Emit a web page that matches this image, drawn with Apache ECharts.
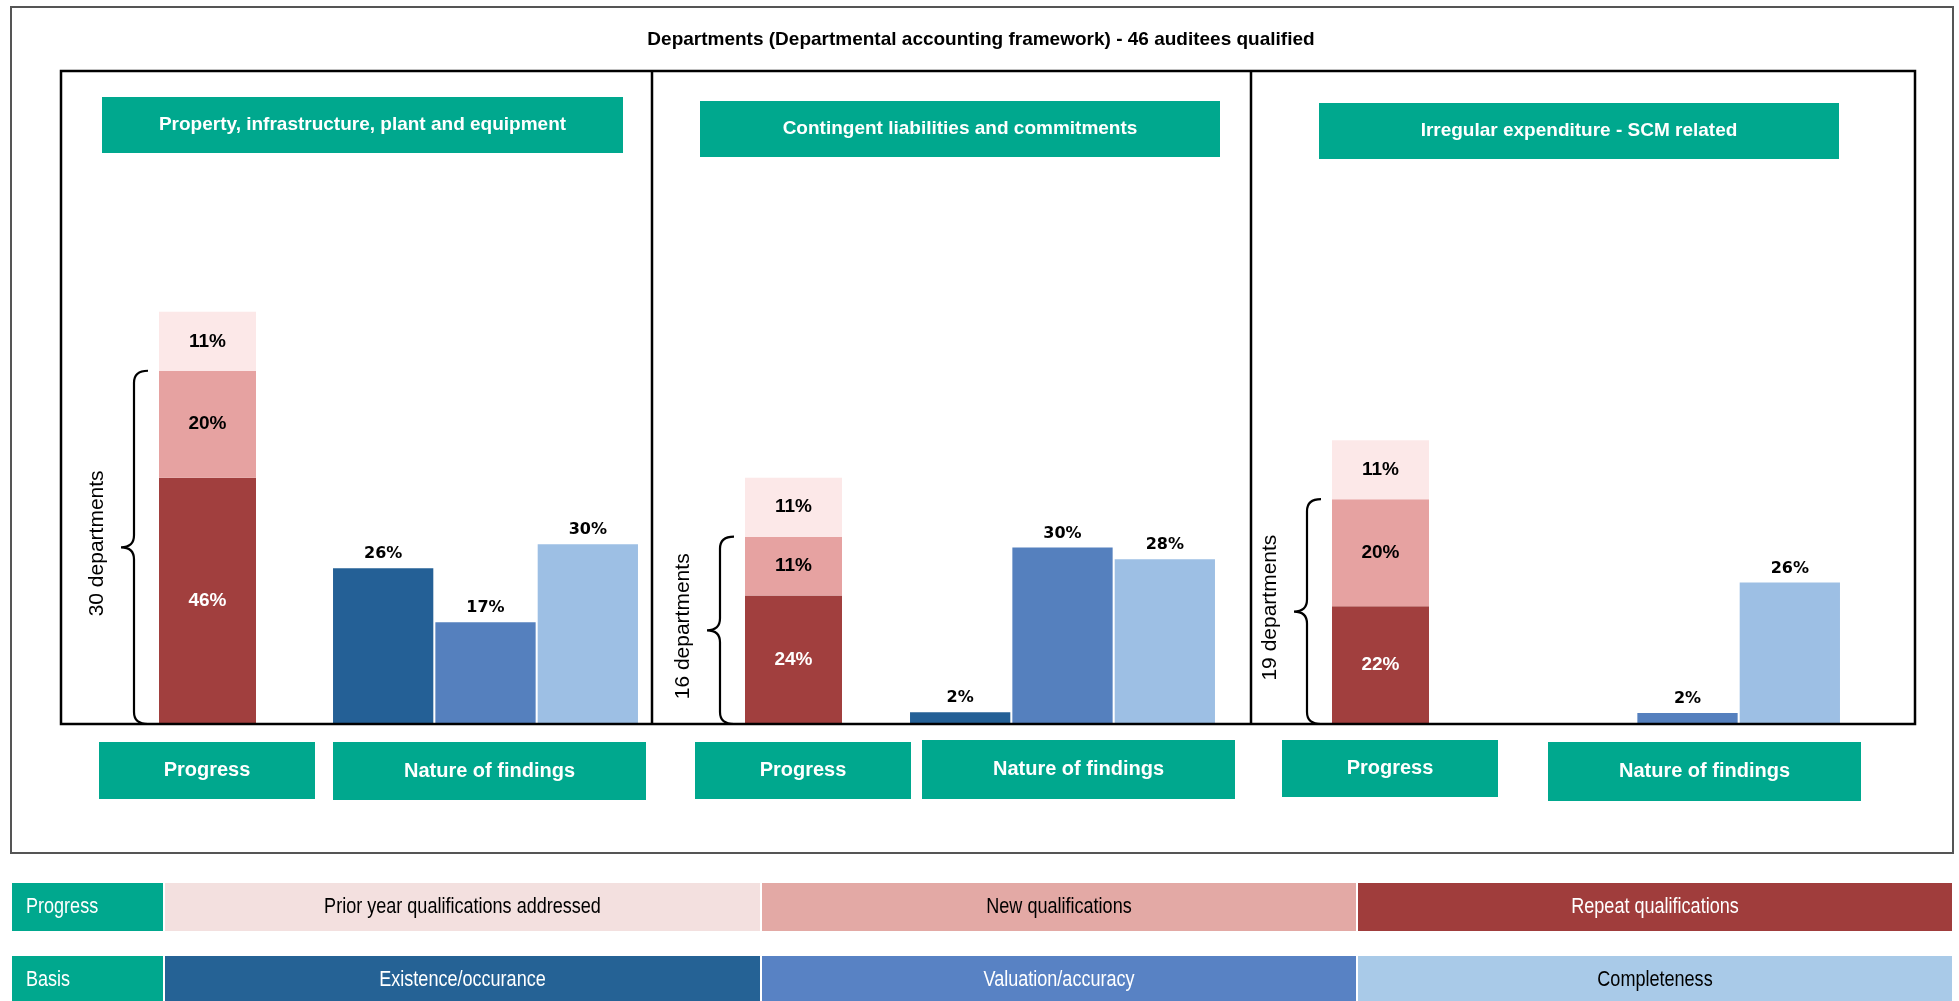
<!DOCTYPE html>
<html>
<head>
<meta charset="utf-8">
<script src="https://cdn.jsdelivr.net/npm/echarts/dist/echarts.min.js"></script>
<style>
  html, body { margin: 0; padding: 0; background: #ffffff; }
  #chart { width: 1959px; height: 1001px; }
</style>
</head>
<body>
<div id="chart"></div>
<script>
// ---- Data ----
const chartTitle = 'Departments (Departmental accounting framework) - 46 auditees qualified';
const panelNames = [
  'Property, infrastructure, plant and equipment',
  'Contingent liabilities and commitments',
  'Irregular expenditure - SCM related'
];
const groupLabels = ['Progress', 'Nature of findings'];

// Progress (% of qualified departments), stacked bottom to top
const repeatQualifications = [46, 24, 22];
const newQualifications = [20, 11, 20];
const priorYearAddressed = [11, 11, 11];
// Departments with the finding (repeat + new)
const departmentCounts = [30, 16, 19];

// Nature of findings (% of departments)
const existenceOccurrence = [26, 2, 0];
const valuationAccuracy = [17, 30, 2];
const completeness = [30, 28, 26];

const legendRows = ['Progress', 'Basis'];
const progressLegend = ['Prior year qualifications addressed', 'New qualifications', 'Repeat qualifications'];
const basisLegend = ['Existence/occurance', 'Valuation/accuracy', 'Completeness'];

// ---- Styling and layout ----
const GREEN = '#00A88E';
const SANS = '"Liberation Sans", Arial, sans-serif';
const C_REPEAT = '#A13F3E', C_NEW = '#E6A2A1', C_PRIOR = '#FCE8E8';
const C_EXIST = '#246096', C_VALUE = '#5580BE', C_COMPLETE = '#9DBFE4';
const L_PRIOR = '#F3E0DF', L_NEW = '#E3A9A5', L_REPEAT = '#A03D3C';
const L_EXIST = '#256295', L_VALUE = '#5882C4', L_COMPLETE = '#A9CAE8';

const plotTop = 71, plotBottom = 724;
const plotHeight = plotBottom - plotTop;
const progressLeft = [159, 745, 1332];
const progressWidth = 97;
const natureLeft = [332, 909, 1534];
const natureWidth = 307;
const progressMax = 122;
const natureMax = [109, 111, 120];

const headerBoxes = [
  { x: 102, y: 97, w: 521, h: 56 },
  { x: 700, y: 101, w: 520, h: 56 },
  { x: 1319, y: 103, w: 520, h: 56 }
];
const progressBoxes = [
  { x: 99, y: 742, w: 216, h: 57 },
  { x: 695, y: 742, w: 216, h: 57 },
  { x: 1282, y: 740, w: 216, h: 57 }
];
const natureBoxes = [
  { x: 333, y: 742, w: 313, h: 58 },
  { x: 922, y: 740, w: 313, h: 59 },
  { x: 1548, y: 742, w: 313, h: 59 }
];

function greenBox(b, text, size) {
  return {
    type: 'rect',
    shape: { x: b.x, y: b.y, width: b.w, height: b.h },
    style: { fill: GREEN },
    textContent: {
      style: { text: text, fill: '#ffffff', font: 'bold ' + size + 'px ' + SANS }
    },
    textConfig: { position: 'inside' }
  };
}

// Curly brace to the left of a progress bar, spanning 0 .. (repeat + new)
function renderBrace(params, api) {
  const top = api.coord([api.value(0), api.value(1)]);
  const base = api.coord([api.value(0), 0]);
  const band = api.size([1, 0])[0];
  const barLeft = top[0] - band / 2;
  const tipX = barLeft - 38, stemX = barLeft - 25, endX = barLeft - 11;
  const yTop = top[1], yBot = base[1], yMid = (yTop + yBot) / 2;
  const r = 12;
  const d = [
    'M', endX, yTop,
    'Q', stemX, yTop, stemX, yTop + r,
    'L', stemX, yMid - r,
    'Q', stemX, yMid, tipX, yMid,
    'Q', stemX, yMid, stemX, yMid + r,
    'L', stemX, yBot - r,
    'Q', stemX, yBot, endX, yBot
  ].join(' ');
  return {
    type: 'group',
    children: [
      { type: 'path', shape: { pathData: d },
        style: { stroke: '#000000', lineWidth: 2.2, fill: null } },
      { type: 'text', x: barLeft - 62, y: yMid - 4, rotation: Math.PI / 2,
        style: { text: api.value(2) + ' departments', fill: '#000000',
                 font: '21px ' + SANS,
                 align: 'center', verticalAlign: 'middle' } }
    ]
  };
}

const grids = [], xAxes = [], yAxes = [], series = [];
panelNames.forEach(function (name, i) {
  // progress grid
  grids.push({ left: progressLeft[i], top: plotTop, width: progressWidth, height: plotHeight });
  xAxes.push({ type: 'category', gridIndex: 2 * i, data: [groupLabels[0]], show: false });
  yAxes.push({ type: 'value', gridIndex: 2 * i, min: 0, max: progressMax, show: false });
  // nature grid
  grids.push({ left: natureLeft[i], top: plotTop, width: natureWidth, height: plotHeight });
  xAxes.push({ type: 'category', gridIndex: 2 * i + 1, data: basisLegend, show: false });
  yAxes.push({ type: 'value', gridIndex: 2 * i + 1, min: 0, max: natureMax[i], show: false });

  const segs = [
    { name: progressLegend[2], v: repeatQualifications[i], c: C_REPEAT, t: '#ffffff' },
    { name: progressLegend[1], v: newQualifications[i], c: C_NEW, t: '#000000' },
    { name: progressLegend[0], v: priorYearAddressed[i], c: C_PRIOR, t: '#000000' }
  ];
  segs.forEach(function (s) {
    series.push({
      type: 'bar', name: s.name, stack: 'progress' + i,
      xAxisIndex: 2 * i, yAxisIndex: 2 * i,
      barWidth: '100%',
      data: [s.v],
      itemStyle: { color: s.c },
      label: { show: true, position: 'inside', formatter: '{c}%',
               color: s.t, fontSize: 19, fontWeight: 'bold', fontFamily: SANS },
      silent: true
    });
  });

  series.push({
    type: 'custom', name: 'departments' + i,
    xAxisIndex: 2 * i, yAxisIndex: 2 * i,
    clip: false, silent: true, z: 5,
    renderItem: renderBrace,
    data: [[0, repeatQualifications[i] + newQualifications[i], departmentCounts[i]]]
  });

  series.push({
    type: 'bar', name: 'Nature of findings ' + (i + 1),
    xAxisIndex: 2 * i + 1, yAxisIndex: 2 * i + 1,
    barWidth: '98%',
    data: [
      { value: existenceOccurrence[i], itemStyle: { color: C_EXIST } },
      { value: valuationAccuracy[i], itemStyle: { color: C_VALUE } },
      { value: completeness[i], itemStyle: { color: C_COMPLETE } }
    ],
    label: { show: true, position: 'top', distance: 6,
             formatter: function (p) { return p.value > 0 ? p.value + '%' : ''; },
             color: '#000000', fontSize: 16, fontWeight: 'bold',
             fontFamily: '"DejaVu Sans", sans-serif' },
    silent: true
  });
});

// ---- Decorations: boxes, frame, legend table ----
const graphics = [];
graphics.push({ type: 'rect', z: 0,
  shape: { x: 11, y: 7, width: 1942, height: 846 },
  style: { fill: null, stroke: '#555555', lineWidth: 2 } });
graphics.push({ type: 'text', x: 981, y: 40,
  style: { text: chartTitle, fill: '#000000', font: 'bold 19px ' + SANS,
           align: 'center', verticalAlign: 'middle' } });
graphics.push({ type: 'rect', z: 100,
  shape: { x: 61, y: plotTop, width: 1854, height: plotHeight },
  style: { fill: null, stroke: '#000000', lineWidth: 2.5 } });
[652, 1251].forEach(function (x) {
  graphics.push({ type: 'line', z: 100,
    shape: { x1: x, y1: plotTop, x2: x, y2: plotBottom },
    style: { stroke: '#000000', lineWidth: 2.5 } });
});
panelNames.forEach(function (name, i) {
  graphics.push(greenBox(headerBoxes[i], name, 19));
  graphics.push(greenBox(progressBoxes[i], groupLabels[0], 20));
  graphics.push(greenBox(natureBoxes[i], groupLabels[1], 20));
});

// Legend table, condensed lettering
const LEGEND_FONT = '22px ' + SANS;
const LEGEND_SQUEEZE = 0.82;
const legendCells = [
  { x: 12, w: 151 }, { x: 165, w: 595 }, { x: 762, w: 594 }, { x: 1358, w: 594 }
];
const legendTable = [
  { y: 883, label: legendRows[0], items: progressLegend,
    fills: [L_PRIOR, L_NEW, L_REPEAT], inks: ['#000000', '#000000', '#ffffff'] },
  { y: 956, label: legendRows[1], items: basisLegend,
    fills: [L_EXIST, L_VALUE, L_COMPLETE], inks: ['#ffffff', '#ffffff', '#000000'] }
];
legendTable.forEach(function (row) {
  graphics.push({ type: 'rect',
    shape: { x: legendCells[0].x, y: row.y, width: legendCells[0].w, height: 48 },
    style: { fill: GREEN } });
  graphics.push({ type: 'text', x: 26, y: row.y + 24, scaleX: LEGEND_SQUEEZE,
    style: { text: row.label, fill: '#ffffff', font: LEGEND_FONT,
             align: 'left', verticalAlign: 'middle' } });
  row.items.forEach(function (item, k) {
    const c = legendCells[k + 1];
    graphics.push({ type: 'rect',
      shape: { x: c.x, y: row.y, width: c.w, height: 48 },
      style: { fill: row.fills[k] } });
    graphics.push({ type: 'text', x: c.x + c.w / 2, y: row.y + 24, scaleX: LEGEND_SQUEEZE,
      style: { text: item, fill: row.inks[k], font: LEGEND_FONT,
               align: 'center', verticalAlign: 'middle' } });
  });
});

const chart = echarts.init(document.getElementById('chart'), null, { renderer: 'canvas' });
chart.setOption({
  animation: false,
  backgroundColor: '#ffffff',
  grid: grids,
  xAxis: xAxes,
  yAxis: yAxes,
  series: series,
  graphic: graphics
});
</script>
</body>
</html>
